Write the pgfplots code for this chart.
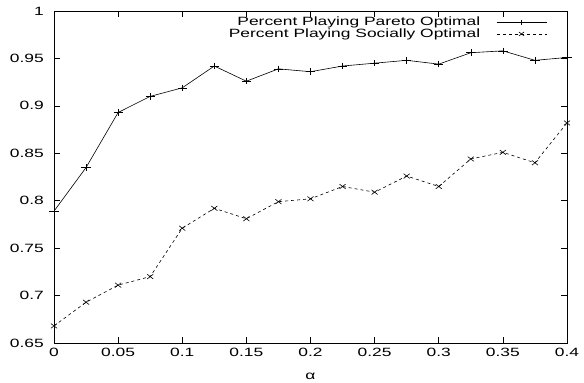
\documentclass[border=0pt]{standalone}
\usepackage{fontspec}
\setmainfont{Liberation Sans}[FakeStretch=1.45]
\usepackage{pgfplots}
\pgfplotsset{compat=1.18}
\begin{document}
\fontsize{12bp}{14bp}\selectfont
\begin{tikzpicture}
\begin{axis}[
  width=513bp, height=332bp, scale only axis,
  xmin=0, xmax=0.4, ymin=0.65, ymax=1,
  xtick={0,0.05,0.1,0.15,0.2,0.25,0.3,0.35,0.4},
  ytick={0.65,0.7,0.75,0.8,0.85,0.9,0.95,1},
  /pgf/number format/assume math mode=true,
  /pgf/number format/fixed,
  tick label style={font=\fontsize{12bp}{14bp}\selectfont},
  xticklabel style={yshift=-1bp},
  yticklabel style={xshift=-6bp},
  tick align=inside, major tick length=6bp,
  every tick/.style={black, line width=0.6bp},
  axis line style={line width=0.9bp},
  xlabel={α},
  xlabel style={yshift=-8bp},
  legend style={draw=none, fill=none, at={(1,1)}, anchor=north east,
    xshift=-20bp, yshift=-4bp, font=\fontsize{12bp}{12bp}\selectfont,
    cells={anchor=east}, row sep=-3bp, column sep=14bp, inner sep=0pt},
  legend plot pos=right,
  legend image code/.code={
    \draw[mark repeat=2,mark phase=2,#1,mark size=2.8bp] plot coordinates {(0bp,0bp) (25bp,0bp) (50bp,0bp)};
  },
]
\addplot[black, line width=0.6bp, mark=+, mark size=3.3bp, mark options={solid, xscale=1.4}] coordinates {
(0,0.789) (0.025,0.835) (0.05,0.893) (0.075,0.910) (0.1,0.919) (0.125,0.942)
(0.15,0.926) (0.175,0.939) (0.2,0.936) (0.225,0.942) (0.25,0.945) (0.275,0.948)
(0.3,0.944) (0.325,0.956) (0.35,0.958) (0.375,0.948) (0.4,0.951)};
\addlegendentry{Percent Playing Pareto Optimal}
\addplot[black, line width=0.6bp, dash pattern=on 3bp off 3bp, mark=x, mark size=3.3bp, mark options={solid, xscale=1.3}] coordinates {
(0,0.668) (0.025,0.693) (0.05,0.711) (0.075,0.720) (0.1,0.771) (0.125,0.792)
(0.15,0.781) (0.175,0.799) (0.2,0.802) (0.225,0.815) (0.25,0.809) (0.275,0.826)
(0.3,0.815) (0.325,0.844) (0.35,0.851) (0.375,0.840) (0.4,0.882)};
\addlegendentry{Percent Playing Socially Optimal}
\end{axis}
\pgfresetboundingbox
\useasboundingbox ([shift={(-54bp,-40bp)}]current axis.south west) rectangle ([shift={(17bp,11bp)}]current axis.north east);
\end{tikzpicture}
\end{document}
